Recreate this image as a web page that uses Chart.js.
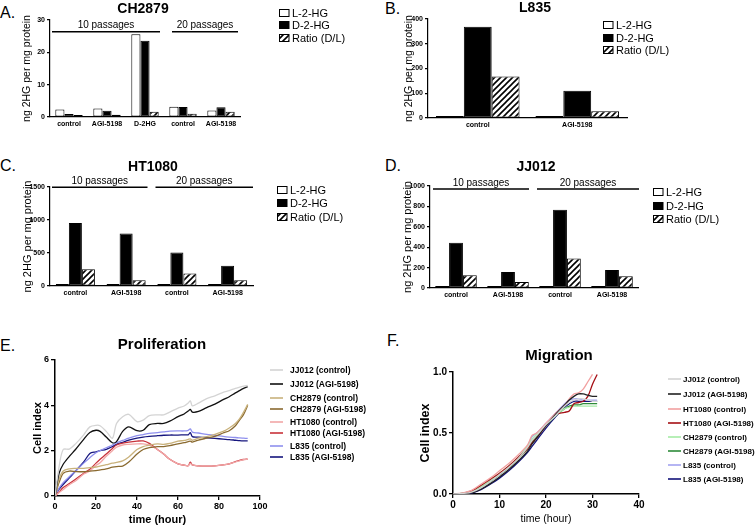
<!DOCTYPE html>
<html>
<head>
<meta charset="utf-8">
<script src="https://cdn.jsdelivr.net/npm/chart.js@4.4.0/dist/chart.umd.min.js"></script>
<style>
  body { margin: 0; background: #fff; width: 755px; height: 526px; position: relative; overflow: hidden;
         font-family: Arial, "Liberation Sans", sans-serif; }
  .panel { position: absolute; }
  .letter { position: absolute; font-size: 16px; line-height: 16px; color: #000; }
</style>
</head>
<body>
<div class="letter" style="left:0px;top:5px">A.</div>
<div class="letter" style="left:385px;top:1px">B.</div>
<div class="letter" style="left:0px;top:158px">C.</div>
<div class="letter" style="left:385px;top:158px">D.</div>
<div class="letter" style="left:0px;top:338px">E.</div>
<div class="letter" style="left:387px;top:333px">F.</div>

<div class="panel" style="left:0px;top:0px;width:360px;height:135px"><canvas id="chartA"></canvas></div>
<div class="panel" style="left:380px;top:0px;width:375px;height:135px"><canvas id="chartB"></canvas></div>
<div class="panel" style="left:0px;top:140px;width:360px;height:160px"><canvas id="chartC"></canvas></div>
<div class="panel" style="left:380px;top:140px;width:375px;height:160px"><canvas id="chartD"></canvas></div>
<div class="panel" style="left:0px;top:320px;width:380px;height:206px"><canvas id="chartE"></canvas></div>
<div class="panel" style="left:380px;top:320px;width:375px;height:206px"><canvas id="chartF"></canvas></div>

<script>
// ---- data ----
const hgSeries = ['L-2-HG', 'D-2-HG', 'Ratio (D/L)'];
const passageLabels = ['10 passages', '20 passages'];

const ch2879Groups = ['control', 'AGI-5198', 'D-2HG', 'control', 'AGI-5198'];
const ch2879L = [2.3, 2.6, 25.6, 3.2, 2.0];
const ch2879D = [0.9, 1.9, 23.6, 3.1, 3.0];
const ch2879Ratio = [0.4, 0.7, 1.6, 1.0, 1.6];
const ch2879Ticks = [0, 10, 20, 30];

const l835Groups = ['control', 'AGI-5198'];
const l835L = [3, 4];
const l835D = [369, 110];
const l835Ratio = [168, 27];
const l835Ticks = [0, 100, 200, 300, 400];

const ht1080Groups = ['control', 'AGI-5198', 'control', 'AGI-5198'];
const ht1080L = [8, 10, 5, 5];
const ht1080D = [956, 795, 508, 307];
const ht1080Ratio = [252, 86, 191, 86];
const ht1080Ticks = [0, 500, 1000, 1500];

const jj012Groups = ['control', 'AGI-5198', 'control', 'AGI-5198'];
const jj012L = [3, 3, 3, 3];
const jj012D = [444, 157, 768, 176];
const jj012Ratio = [124, 59, 288, 114];
const jj012Ticks = [0, 200, 400, 600, 800, 1000];

// proliferation (E)
const prolifTime = [0, 2, 4, 7, 10, 14, 17, 20, 22, 25, 28, 30, 33, 36, 40, 43, 46, 50, 53, 56, 60, 63, 65, 66, 67, 70, 74, 78, 82, 85, 88, 90, 92, 94];
const prolifNames = ['JJ012 (control)', 'JJ012 (AGI-5198)', 'CH2879 (control)', 'CH2879 (AGI-5198)',
                     'HT1080 (control)', 'HT1080 (AGI-5198)', 'L835 (control)', 'L835 (AGI-5198)'];
const prolifJJ012Ctrl = [0, 1.3, 2.05, 2.07, 2.3, 2.7, 3.05, 3.12, 3.1, 2.85, 2.55, 3.2, 3.5, 3.6, 3.28, 3.35, 3.55, 3.58, 3.58, 3.7, 3.88, 3.97, 4.1, 4.2, 3.98, 4.1, 4.3, 4.42, 4.57, 4.65, 4.75, 4.8, 4.85, 4.88];
const prolifJJ012Agi = [0, 1.0, 1.4, 1.75, 2.05, 2.5, 2.8, 2.9, 2.85, 2.6, 2.35, 2.4, 2.85, 3.05, 2.88, 2.9, 3.15, 3.2, 3.2, 3.3, 3.5, 3.62, 3.75, 3.82, 3.7, 3.73, 3.9, 4.05, 4.25, 4.38, 4.55, 4.65, 4.75, 4.82];
const prolifCH2879Ctrl = [0, 0.75, 1.1, 1.2, 1.22, 1.22, 1.25, 1.28, 1.32, 1.38, 1.45, 1.48, 1.55, 1.72, 2.05, 2.18, 2.24, 2.3, 2.28, 2.32, 2.42, 2.45, 2.5, 2.52, 2.46, 2.55, 2.62, 2.72, 2.85, 3.0, 3.2, 3.4, 3.7, 4.04];
const prolifCH2879Agi = [0, 0.6, 1.0, 1.1, 1.08, 1.07, 1.1, 1.12, 1.15, 1.2, 1.27, 1.3, 1.32, 1.5, 1.85, 2.05, 2.13, 2.18, 2.18, 2.22, 2.3, 2.35, 2.4, 2.42, 2.38, 2.47, 2.55, 2.63, 2.78, 2.88, 3.1, 3.35, 3.6, 4.0];
const prolifHT1080Ctrl = [0, 0.15, 0.29, 0.5, 0.66, 0.97, 1.1, 1.35, 1.47, 1.75, 2.0, 2.15, 2.25, 2.28, 2.3, 2.3, 2.24, 2.05, 1.85, 1.62, 1.42, 1.36, 1.34, 1.44, 1.37, 1.33, 1.32, 1.33, 1.37, 1.42, 1.5, 1.55, 1.6, 1.62];
const prolifHT1080Agi = [0, 0.18, 0.37, 0.55, 0.74, 1.0, 1.18, 1.45, 1.62, 1.85, 2.1, 2.25, 2.33, 2.38, 2.42, 2.43, 2.32, 2.05, 1.85, 1.62, 1.42, 1.36, 1.34, 1.49, 1.37, 1.33, 1.32, 1.33, 1.37, 1.42, 1.52, 1.57, 1.61, 1.63];
const prolifL835Ctrl = [0, 0.35, 0.59, 0.85, 1.1, 1.45, 1.69, 1.91, 2.0, 2.13, 2.25, 2.35, 2.45, 2.55, 2.66, 2.71, 2.76, 2.8, 2.83, 2.86, 2.87, 2.87, 2.9, 2.96, 2.82, 2.78, 2.72, 2.68, 2.63, 2.6, 2.58, 2.56, 2.55, 2.54];
const prolifL835Agi = [0, 0.3, 0.51, 0.8, 1.1, 1.5, 1.88, 1.95, 2.0, 2.06, 2.18, 2.28, 2.37, 2.46, 2.55, 2.6, 2.63, 2.66, 2.68, 2.69, 2.69, 2.7, 2.7, 2.8, 2.62, 2.6, 2.57, 2.54, 2.51, 2.49, 2.46, 2.44, 2.43, 2.43];
const prolifXTicks = [0, 20, 40, 60, 80, 100];
const prolifYTicks = [0, 2, 4, 6];

// migration (F)
const migTime = [0, 2, 4, 6, 8, 10, 12, 14, 16, 17, 18, 20, 22, 24, 25, 26, 27, 28, 29, 30, 31];
const migNames = ['JJ012 (control)', 'JJ012 (AGI-5198)', 'HT1080 (control)', 'HT1080 (AGI-5198)',
                  'CH2879 (control)', 'CH2879 (AGI-5198)', 'L835 (control)', 'L835 (AGI-5198)'];
const migJJ012Ctrl = [0, 0.004, 0.015, 0.05, 0.1, 0.16, 0.22, 0.29, 0.38, 0.44, 0.48, 0.57, 0.64, 0.72, 0.75, 0.77, 0.78, 0.78, 0.77, 0.76, 0.76];
const migJJ012Agi = [0, 0.002, 0.01, 0.04, 0.085, 0.14, 0.2, 0.27, 0.35, 0.41, 0.46, 0.56, 0.65, 0.73, 0.77, 0.8, 0.82, 0.82, 0.81, 0.8, 0.8];
const migHT1080Ctrl = [0, 0.008, 0.03, 0.08, 0.13, 0.19, 0.25, 0.32, 0.4, 0.48, 0.5, 0.58, 0.66, 0.73, 0.78, 0.82, 0.83, 0.86, 0.92, 0.98, null];
const migHT1080Agi = [0, 0.006, 0.025, 0.07, 0.12, 0.17, 0.23, 0.3, 0.37, 0.42, 0.46, 0.56, 0.65, 0.67, 0.68, 0.74, 0.75, 0.76, 0.8, 0.9, 0.98];
const migCH2879Ctrl = [0, 0.005, 0.02, 0.06, 0.11, 0.17, 0.23, 0.3, 0.39, 0.45, 0.49, 0.57, 0.64, 0.7, 0.71, 0.72, 0.72, 0.72, 0.72, 0.72, 0.72];
const migCH2879Agi = [0, 0.004, 0.018, 0.055, 0.1, 0.16, 0.22, 0.29, 0.37, 0.43, 0.47, 0.56, 0.64, 0.7, 0.72, 0.73, 0.73, 0.74, 0.74, 0.74, 0.74];
const migL835Ctrl = [0, 0.003, 0.015, 0.05, 0.1, 0.16, 0.22, 0.3, 0.39, 0.47, 0.5, 0.58, 0.66, 0.74, 0.77, 0.78, 0.78, 0.77, 0.77, 0.77, 0.77];
const migL835Agi = [0, 0.002, 0.008, 0.035, 0.08, 0.13, 0.19, 0.26, 0.34, 0.39, 0.44, 0.54, 0.63, 0.71, 0.74, 0.76, 0.76, 0.76, 0.76, 0.76, 0.76];
const migXTicks = [0, 10, 20, 30, 40];
const migYTicks = [0, 0.5, 1.0];

// ---- setup ----
const FONT = 'Arial, "Liberation Sans", sans-serif';
Chart.defaults.font.family = FONT;
Chart.defaults.color = '#000';
Chart.defaults.animation = false;

function makeHatch() {
    const c = document.createElement('canvas');
    c.width = 6; c.height = 6;
    const g = c.getContext('2d');
    g.fillStyle = '#fff';
    g.fillRect(0, 0, 6, 6);
    g.strokeStyle = '#000';
    g.lineWidth = 1.6;
    g.beginPath();
    g.moveTo(0, 6); g.lineTo(6, 0);
    g.moveTo(-3, 3); g.lineTo(3, -3);
    g.moveTo(3, 9); g.lineTo(9, 3);
    g.stroke();
    return g.createPattern(c, 'repeat');
}
const hatch = makeHatch();
const hgFills = ['#fff', '#000', hatch];

function padFor(box, area, yw, xh) {
    return {
        left: area.l - box.x - yw,
        right: box.x + box.w - area.r,
        top: area.t - box.y,
        bottom: box.y + box.h - area.b - xh
    };
}

// titles, legends and passage brackets
function decor(cfg) {
    return {
        id: 'decor',
        afterDraw(chart) {
            const ctx = chart.ctx;
            const ox = cfg.box.x, oy = cfg.box.y;
            ctx.save();
            ctx.fillStyle = '#000';
            ctx.textAlign = 'center';
            ctx.textBaseline = 'middle';
            ctx.font = 'bold ' + cfg.titleSize + 'px ' + FONT;
            ctx.fillText(cfg.title, cfg.titleX - ox, cfg.titleY - oy);

            if (cfg.brackets) {
                const xs = chart.scales.x, ys = chart.scales.y;
                const half = (xs.getPixelForValue(1) - xs.getPixelForValue(0)) / 2;
                ctx.font = '10px ' + FONT;
                ctx.lineWidth = 1.5;
                ctx.strokeStyle = '#000';
                cfg.brackets.forEach((b, i) => {
                    const x1 = xs.getPixelForValue(b.from) - half + b.in1;
                    const x2 = xs.getPixelForValue(b.to) + half - b.in2;
                    const y = ys.getPixelForValue(b.at);
                    ctx.beginPath();
                    ctx.moveTo(x1, y); ctx.lineTo(x2, y);
                    ctx.stroke();
                    ctx.fillText(passageLabels[i], (x1 + x2) / 2, y - 6);
                });
            }

            const lg = cfg.legend;
            ctx.textAlign = 'left';
            ctx.font = (lg.bold ? 'bold ' : '') + lg.size + 'px ' + FONT;
            lg.labels.forEach((txt, i) => {
                const y = lg.rows[i] - oy;
                if (lg.kind === 'bar') {
                    ctx.fillStyle = hgFills[i];
                    ctx.fillRect(lg.x - ox, y - 3.5, 10, 7);
                    ctx.strokeStyle = '#000';
                    ctx.lineWidth = 1;
                    ctx.strokeRect(lg.x - ox + 0.5, y - 3.5, 9.5, 7);
                } else {
                    ctx.strokeStyle = lg.colors[i];
                    ctx.lineWidth = 1.6;
                    ctx.beginPath();
                    ctx.moveTo(lg.x - ox, y); ctx.lineTo(lg.x - ox + 13, y);
                    ctx.stroke();
                }
                ctx.fillStyle = '#000';
                ctx.fillText(txt, lg.tx - ox, y + 0.5);
            });
            ctx.restore();
        }
    };
}

function barPanel(id, box, area, groups, lVals, dVals, rVals, yTicks, o) {
    const yw = o.yw, xh = 14;
    new Chart(document.getElementById(id), {
        type: 'bar',
        data: {
            labels: groups,
            datasets: [lVals, dVals, rVals].map((vals, i) => ({
                label: hgSeries[i],
                data: vals,
                backgroundColor: hgFills[i],
                borderColor: '#000',
                borderWidth: 1,
                borderSkipped: false,
                minBarLength: 2
            }))
        },
        options: {
            responsive: true,
            maintainAspectRatio: false,
            animation: false,
            layout: { padding: padFor(box, area, yw, xh) },
            datasets: { bar: { categoryPercentage: o.catPct, barPercentage: 1 } },
            plugins: { legend: { display: false }, tooltip: { enabled: false } },
            scales: {
                x: {
                    grid: { display: false, drawTicks: false },
                    border: { color: '#000', width: 1.2 },
                    ticks: { font: { size: 7, weight: 'bold' }, padding: 3, maxRotation: 0, autoSkip: false },
                    afterFit: s => { s.height = xh; }
                },
                y: {
                    min: yTicks[0],
                    max: yTicks[yTicks.length - 1],
                    grid: { drawOnChartArea: false, tickLength: 3, color: '#000', lineWidth: 1.2 },
                    border: { color: '#000', width: 1.2 },
                    ticks: { stepSize: yTicks[1] - yTicks[0], font: { size: 7, weight: 'bold' }, padding: 2,
                             callback: v => String(v) },
                    title: { display: true, text: 'ng 2HG per mg protein', font: { size: o.ytSize }, padding: 0 },
                    afterFit: s => { s.width = yw; }
                }
            }
        },
        plugins: [decor({
            box: box, title: o.title, titleX: o.titleX, titleY: o.titleY, titleSize: 14,
            brackets: o.brackets,
            legend: { kind: 'bar', labels: hgSeries, x: o.lgX, tx: o.lgX + 13, rows: o.lgRows, size: 11 }
        })]
    });
}

function toPoints(times, vals) {
    return times.map((t, i) => ({ x: t, y: vals[i] }));
}

function linePanel(id, box, area, times, names, seriesList, colors, xTicks, yTicks, o) {
    new Chart(document.getElementById(id), {
        type: 'line',
        data: {
            datasets: seriesList.map((vals, i) => ({
                label: names[i],
                data: toPoints(times, vals),
                borderColor: colors[i],
                borderWidth: 1.3,
                pointRadius: 0,
                tension: 0.3,
                fill: false
            }))
        },
        options: {
            responsive: true,
            maintainAspectRatio: false,
            animation: false,
            layout: { padding: padFor(box, area, o.yw, o.xh) },
            plugins: { legend: { display: false }, tooltip: { enabled: false } },
            scales: {
                x: {
                    type: 'linear',
                    min: xTicks[0],
                    max: xTicks[xTicks.length - 1],
                    grid: { drawOnChartArea: false, tickLength: 4, color: '#000', lineWidth: 1.3 },
                    border: { color: '#000', width: 1.5 },
                    ticks: { stepSize: xTicks[1] - xTicks[0], font: { size: o.tickSize, weight: 'bold' }, padding: 1, maxRotation: 0 },
                    title: { display: true, text: 'time (hour)', font: { size: o.xtSize, weight: o.xtWeight }, padding: 0 },
                    afterFit: s => { s.height = o.xh; }
                },
                y: {
                    min: yTicks[0],
                    max: yTicks[yTicks.length - 1],
                    grid: { drawOnChartArea: false, tickLength: 4, color: '#000', lineWidth: 1.3 },
                    border: { color: '#000', width: 1.5 },
                    ticks: { stepSize: yTicks[1] - yTicks[0], font: { size: o.tickSize, weight: 'bold' }, padding: 2,
                             callback: v => o.decimals ? v.toFixed(1) : v },
                    title: { display: true, text: 'Cell index', font: { size: o.ytSize, weight: 'bold' }, padding: 0 },
                    afterFit: s => { s.width = o.yw; }
                }
            }
        },
        plugins: [decor({
            box: box, title: o.title, titleX: o.titleX, titleY: o.titleY, titleSize: 15,
            legend: { kind: 'line', labels: names, colors: colors, x: o.lgX, tx: o.lgTx, rows: o.lgRows, size: o.lgSize, bold: true }
        })]
    });
}

// ---- panels ----
barPanel('chartA', { x: 0, y: 0, w: 360, h: 135 }, { l: 50, t: 20, r: 240, b: 117 },
    ch2879Groups, ch2879L, ch2879D, ch2879Ratio, ch2879Ticks, {
        yw: 29, ytSize: 10.5, catPct: 0.72, title: 'CH2879', titleX: 143, titleY: 9,
        brackets: [{ from: 0, to: 2, in1: 2, in2: 4, at: 26.4 }, { from: 3, to: 4, in1: 8, in2: 2, at: 26.4 }],
        lgX: 279, lgRows: [13, 25, 38]
    });

barPanel('chartB', { x: 380, y: 0, w: 375, h: 135 }, { l: 428, t: 19, r: 627, b: 118 },
    l835Groups, l835L, l835D, l835Ratio, l835Ticks, {
        yw: 25, ytSize: 10.5, catPct: 0.84, title: 'L835', titleX: 535, titleY: 8,
        lgX: 603, lgRows: [25, 38, 50]
    });

barPanel('chartC', { x: 0, y: 140, w: 360, h: 160 }, { l: 50, t: 187, r: 253, b: 286 },
    ht1080Groups, ht1080L, ht1080D, ht1080Ratio, ht1080Ticks, {
        yw: 29, ytSize: 11, catPct: 0.77, title: 'HT1080', titleX: 153, titleY: 167,
        brackets: [{ from: 0, to: 1, in1: 2, in2: 4, at: 1495 }, { from: 2, to: 3, in1: 4, in2: 0, at: 1495 }],
        lgX: 277, lgRows: [190, 203, 217]
    });

barPanel('chartD', { x: 380, y: 140, w: 375, h: 160 }, { l: 430, t: 186, r: 638, b: 288 },
    jj012Groups, jj012L, jj012D, jj012Ratio, jj012Ticks, {
        yw: 29, ytSize: 11, catPct: 0.8, title: 'JJ012', titleX: 536, titleY: 167,
        brackets: [{ from: 0, to: 1, in1: 3, in2: 5, at: 970 }, { from: 2, to: 3, in1: 3, in2: -1, at: 970 }],
        lgX: 653, lgRows: [192, 206, 219]
    });

linePanel('chartE', { x: 0, y: 320, w: 380, h: 206 }, { l: 55, t: 360, r: 260, b: 496 },
    prolifTime, prolifNames,
    [prolifJJ012Ctrl, prolifJJ012Agi, prolifCH2879Ctrl, prolifCH2879Agi, prolifHT1080Ctrl, prolifHT1080Agi, prolifL835Ctrl, prolifL835Agi],
    ['#d4d4d4', '#111111', '#c9b27c', '#8a6a30', '#f2a7a7', '#c8323a', '#8f90ee', '#16167e'],
    prolifXTicks, prolifYTicks, {
        yw: 24, xh: 31, tickSize: 9, xtSize: 11, xtWeight: 'bold', ytSize: 11,
        title: 'Proliferation', titleX: 162, titleY: 345,
        lgX: 270, lgTx: 290, lgRows: [370, 384, 398, 409, 422, 433, 446, 457], lgSize: 8.5
    });

linePanel('chartF', { x: 380, y: 320, w: 375, h: 206 }, { l: 453, t: 372, r: 639, b: 494 },
    migTime, migNames,
    [migJJ012Ctrl, migJJ012Agi, migHT1080Ctrl, migHT1080Agi, migCH2879Ctrl, migCH2879Agi, migL835Ctrl, migL835Agi],
    ['#d4d4d4', '#222222', '#f2a0a0', '#a50f15', '#a6eca6', '#2e8b3a', '#a3a3f0', '#12127a'],
    migXTicks, migYTicks, {
        yw: 35, xh: 31, tickSize: 10, xtSize: 10.5, xtWeight: 'normal', ytSize: 12.5, decimals: true,
        title: 'Migration', titleX: 559, titleY: 356,
        lgX: 668, lgTx: 683, lgRows: [379, 394, 409, 423, 437, 451, 465, 479], lgSize: 8
    });
</script>
</body>
</html>
